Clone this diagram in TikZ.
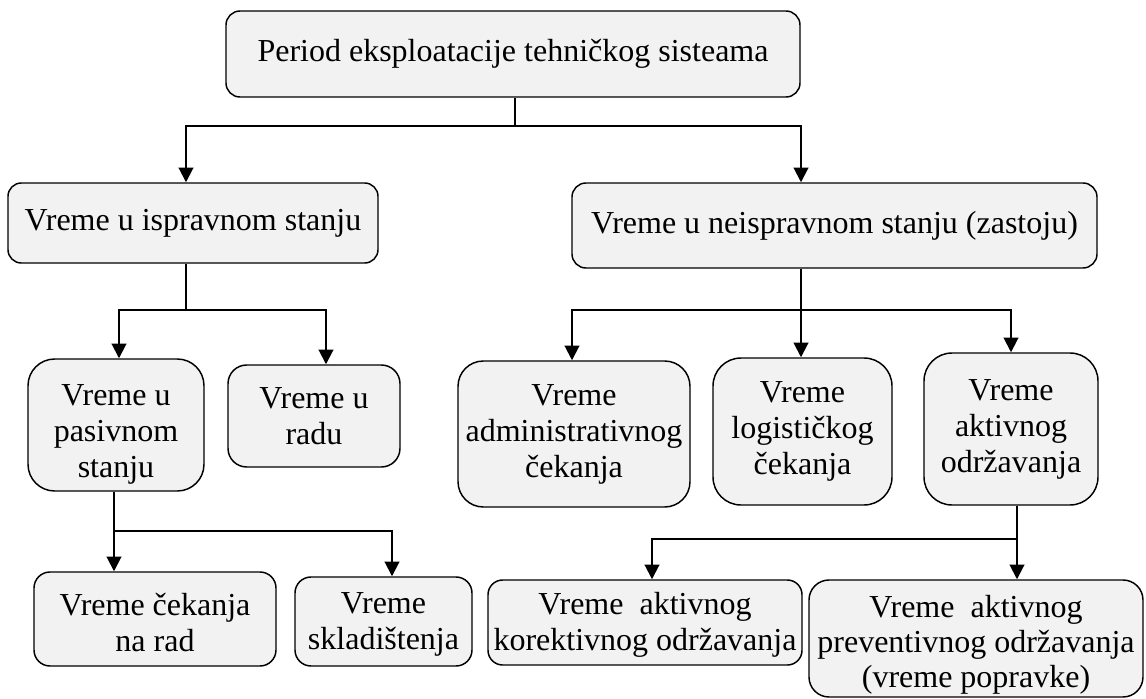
\documentclass[tikz,border=0pt]{standalone}
\usepackage{fontspec}
\setmainfont{Liberation Serif}
\usetikzlibrary{arrows.meta}
\definecolor{boxfill}{HTML}{F2F2F2}
\tikzset{
  boxtext/.style={align=center, inner sep=0pt, font=\fontsize{24pt}{27pt}\selectfont},
  box/.style={boxtext, draw=black, line width=1.1pt, fill=boxfill},
  link/.style={line width=1.5pt},
  arr/.style={link, -{Triangle[length=11pt,width=11pt]}},
}
\begin{document}
\begin{tikzpicture}[x=0.75pt,y=-0.75pt]
\useasboundingbox (0,0) rectangle (1146,699);

% level 0
\node[box, minimum width=430.5pt, minimum height=64.5pt, rounded corners=10.5pt] (top) at (513,54)
  {Period eksploatacije tehničkog sisteama};

% level 1
\node[box, minimum width=277.5pt, minimum height=60pt, rounded corners=10pt] (isp) at (193,223)
  {Vreme u ispravnom stanju};
\node[box, minimum width=393.75pt, minimum height=63.75pt, rounded corners=10.5pt] (neisp) at (834.5,225.5)
  {Vreme u neispravnom stanju (zastoju)};

% level 2, left branch (text set a little below the box centre)
\node[box, minimum width=132pt, minimum height=99pt, rounded corners=20pt] (pas) at (116,425) {};
\node[boxtext, yshift=-7pt] (pasT) at (pas) {Vreme u\\pasivnom\\stanju};
\node[box, minimum width=129pt, minimum height=76.5pt, rounded corners=14pt] (radu) at (314,416)
  {Vreme u\\radu};

% level 2, right branch
\node[box, minimum width=174pt, minimum height=109.5pt, rounded corners=19pt] (adm) at (574,434)
  {Vreme\\administrativnog\\čekanja};
\node[box, minimum width=134.25pt, minimum height=110.25pt, rounded corners=21pt] (log) at (802.5,431.5)
  {Vreme\\logističkog\\čekanja};
\node[box, minimum width=130.5pt, minimum height=114pt, rounded corners=21pt] (akt) at (1011,429)
  {Vreme\\aktivnog\\održavanja};

% level 3
\node[box, minimum width=181.5pt, minimum height=70.5pt, rounded corners=12pt] (cek) at (155,619) {};
\node[boxtext, yshift=-3pt] (cekT) at (cek) {Vreme čekanja\\na rad};
\node[box, minimum width=132.75pt, minimum height=66.75pt, rounded corners=12pt] (skl) at (383.5,621.5) {};
\node[boxtext, yshift=-2.5pt] (sklT) at (skl) {Vreme\\skladištenja};
\node[box, minimum width=235.5pt, minimum height=63.75pt, rounded corners=11pt] (kor) at (645,622.5) {};
\node[boxtext, yshift=-2pt] (korT) at (kor) {Vreme~ aktivnog\\korektivnog održavanja};
\node[box, minimum width=250.5pt, minimum height=87.75pt, rounded corners=15pt] (prev) at (976,638.5) {};
\node[boxtext, font=\fontsize{24pt}{26.25pt}\selectfont, yshift=-4.5pt] (prevT) at (prev)
  {Vreme~ aktivnog\\preventivnog održavanja\\(vreme popravke)};

% junctions and arrow columns
\coordinate (j0) at (515,126);
\coordinate (j1) at (186,310);
\coordinate (j2) at (801,310);
\coordinate (j3) at (114,531);
\coordinate (j4) at (1017,539);
\coordinate (cIsp) at (186,0);
\coordinate (cNeisp) at (801,0);
\coordinate (cPas) at (119,0);
\coordinate (cRadu) at (326,0);
\coordinate (cAdm) at (572,0);
\coordinate (cSkl) at (392,0);
\coordinate (cKor) at (652,0);

% connectors
\draw[link] (j0 |- top.south) -- (j0);
\draw[arr] (j0) -| (cIsp |- isp.north);
\draw[arr] (j0) -| (cNeisp |- neisp.north);

\draw[link] (j1 |- isp.south) -- (j1);
\draw[arr] (j1) -| (cPas |- pas.north);
\draw[arr] (j1) -| (cRadu |- radu.north);

\draw[link] (j2 |- neisp.south) -- (j2);
\draw[arr] (j2) -| (cAdm |- adm.north);
\draw[arr] (j2) -- (j2 |- log.north);
\draw[arr] (j2) -| (akt.north);

\draw[link] (j3 |- pas.south) -- (j3);
\draw[arr] (j3) -- (j3 |- cek.north);
\draw[arr] (j3) -| (cSkl |- skl.north);

\draw[link] (j4 |- akt.south) -- (j4);
\draw[arr] (j4) -| (cKor |- kor.north);
\draw[arr] (j4) -- (j4 |- prev.north);
\end{tikzpicture}
\end{document}
